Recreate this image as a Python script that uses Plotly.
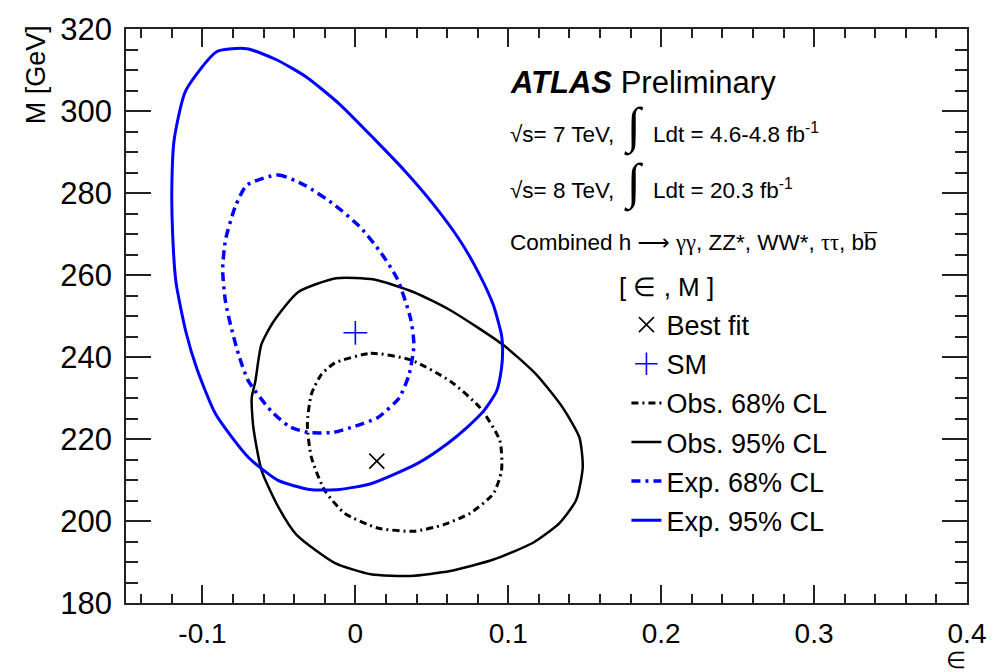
import plotly.graph_objects as go

# ---------------- data ----------------
exp95_eps = [-0.0905, -0.0710, -0.0516, -0.0321, -0.0104, 0.0123, 0.0318, 0.0513, 0.0686, 0.0816,
             0.0903, 0.0956, 0.0963, 0.0956, 0.0924, 0.0838, 0.0729, 0.0599, 0.0404, 0.0101,
             -0.0104, -0.0299, -0.0505, -0.0699, -0.0914, -0.1037, -0.1108, -0.1173, -0.1195,
             -0.1200, -0.1185, -0.1110, -0.0905]
exp95_m = [314.5, 315.2, 312.5, 308.3, 301.7, 293.2, 285.6, 277.1, 268.3, 259.8,
           252.6, 245.3, 242.1, 237.3, 231.7, 226.8, 222.8, 218.8, 214.0, 209.1,
           207.7, 207.7, 209.9, 215.5, 226.1, 237.2, 246.1, 258.2, 270.0,
           282.0, 293.0, 304.9, 314.5]

exp68_eps = [-0.0710, -0.0505, -0.0331, -0.0136, 0.0036, 0.0166, 0.0275, 0.0361, 0.0383, 0.0351,
             0.0286, 0.0145, -0.0029, -0.0147, -0.0310, -0.0430, -0.0550, -0.0699, -0.0764,
             -0.0816, -0.0849, -0.0868, -0.0849, -0.0784, -0.0710]
exp68_m = [281.9, 284.4, 281.9, 277.1, 271.5, 265.5, 259.0, 249.4, 242.9, 235.7,
           230.0, 225.2, 222.8, 221.6, 221.6, 223.0, 226.8, 234.1, 240.6,
           247.8, 253.4, 261.3, 268.6, 276.8, 281.9]

obs95_eps = [-0.0375, -0.0126, 0.0123, 0.0383, 0.0621, 0.0968, 0.1184, 0.1357, 0.1465, 0.1487,
             0.1444, 0.1335, 0.1162, 0.0903, 0.0621, 0.0361, 0.0101, -0.0136, -0.0386, -0.0505,
             -0.0613, -0.0667, -0.0678, -0.0654, -0.0615, -0.0536, -0.0375]
obs95_m = [255.8, 259.2, 258.9, 255.8, 251.4, 242.9, 235.7, 227.6, 220.4, 213.1,
           205.1, 199.5, 194.7, 190.6, 187.8, 186.6, 187.0, 189.8, 196.7, 203.5,
           212.3, 222.8, 230.0, 234.1, 243.0, 248.6, 255.8]

obs68_eps = [-0.0136, 0.0101, 0.0361, 0.0621, 0.0816, 0.0945, 0.0956, 0.0903, 0.0751, 0.0578,
             0.0383, 0.0145, -0.0071, -0.0201, -0.0288, -0.0314, -0.0288, -0.0223, -0.0136]
obs68_m = [238.5, 240.9, 239.3, 234.1, 227.6, 219.6, 212.3, 206.7, 201.9, 199.1,
           197.5, 198.3, 201.9, 207.5, 215.6, 223.6, 230.9, 235.7, 238.5]

best_fit_eps = [0.014]
best_fit_m = [214.6]
sm_eps = [0.0]
sm_m = [245.9]

x_tickvals = [-0.1, 0.0, 0.1, 0.2, 0.3, 0.4]
x_ticktext = ["-0.1", "0", "0.1", "0.2", "0.3", "0.4"]
y_tickvals = [180, 200, 220, 240, 260, 280, 300, 320]
y_ticktext = ["180", "200", "220", "240", "260", "280", "300", "320"]

FONT = "Liberation Sans"
BLUE = "#0000ff"

fig = go.Figure()

fig.add_trace(go.Scatter(x=obs68_eps, y=obs68_m, mode="lines", name="Obs. 68% CL",
                         line=dict(color="black", width=3, dash="7px,4px,2px,4px", shape="spline", smoothing=0.6),
                         legendrank=3, legendgroup="c"))
fig.add_trace(go.Scatter(x=obs95_eps, y=obs95_m, mode="lines", name="Obs. 95% CL",
                         line=dict(color="black", width=2.5, shape="spline", smoothing=0.6),
                         legendrank=4, legendgroup="d"))
fig.add_trace(go.Scatter(x=exp68_eps, y=exp68_m, mode="lines", name="Exp. 68% CL",
                         line=dict(color=BLUE, width=3.5, dash="9px,5px,3px,5px", shape="spline", smoothing=0.6),
                         legendrank=5, legendgroup="e"))
fig.add_trace(go.Scatter(x=exp95_eps, y=exp95_m, mode="lines", name="Exp. 95% CL",
                         line=dict(color=BLUE, width=3, shape="spline", smoothing=0.6),
                         legendrank=6, legendgroup="f"))
fig.add_trace(go.Scatter(x=best_fit_eps, y=best_fit_m, mode="markers", name="Best fit",
                         marker=dict(symbol="x-thin", size=15, color="black",
                                     line=dict(color="black", width=1.6)),
                         legendrank=1, legendgroup="a"))
fig.add_trace(go.Scatter(x=sm_eps, y=sm_m, mode="markers", name="SM",
                         marker=dict(symbol="cross-thin", size=17, color=BLUE,
                                     line=dict(color=BLUE, width=1.6)),
                         legendrank=2, legendgroup="b"))

axis_common = dict(showline=True, linecolor="#222", linewidth=1.8, mirror="ticks",
                   ticks="inside", tickcolor="#222", tickwidth=1.5, showgrid=False,
                   zeroline=False)

fig.update_xaxes(range=[-0.15, 0.4], tickmode="array", tickvals=x_tickvals, ticktext=x_ticktext,
                 ticklen=18, ticklabelstandoff=4,
                 tickfont=dict(family=FONT, size=28, color="black"),
                 minor=dict(tickmode="linear", tick0=0, dtick=0.02, ticklen=9, ticks="inside",
                            tickcolor="#222", tickwidth=1.5),
                 **axis_common)
fig.update_yaxes(range=[180, 320], tickmode="array", tickvals=y_tickvals, ticktext=y_ticktext,
                 ticklen=25, ticklabelstandoff=6,
                 tickfont=dict(family=FONT, size=31, color="black"),
                 minor=dict(tickmode="linear", tick0=180, dtick=5, ticklen=12, ticks="inside",
                            tickcolor="#222", tickwidth=1.5),
                 **axis_common)

W, H = 998, 672
L, R, T, B = 126, 25, 24, 69
pw, ph = W - L - R, H - T - B

def px(xp):
    return (xp - L) / pw

def py(yp):
    return (H - B - yp) / ph

integ = "<span style='font-size:50px;font-family:Liberation Serif'>\u222b</span>"
gam = "<span style='font-family:Liberation Serif'>\u03b3\u03b3</span>"
tau = "<span style='font-family:Liberation Serif'>\u03c4\u03c4</span>"
arrow = "<span style='font-family:DejaVu Sans'>\u27f6</span>"
ann = []
ann.append(dict(text="<b><i>ATLAS</i></b> Preliminary", x=px(511), y=py(78),
                font=dict(family=FONT, size=31, color="black")))
ann.append(dict(text="\u221as= 7 TeV,  " + integ + "  Ldt = 4.6-4.8 fb<sup>-1</sup>", x=px(511), y=py(122),
                font=dict(family=FONT, size=22.5, color="black")))
ann.append(dict(text="\u221as= 8 TeV,  " + integ + "  Ldt = 20.3 fb<sup>-1</sup>", x=px(511), y=py(179),
                font=dict(family=FONT, size=22.5, color="black")))
ann.append(dict(text="Combined h " + arrow + " " + gam + ", ZZ*, WW*, " + tau + ", bb\u0305", x=px(511), y=py(239),
                font=dict(family=FONT, size=22.5, color="black")))
ann.append(dict(text="[ \u2208 , M ]", x=px(621), y=py(284),
                font=dict(family=FONT, size=26, color="black")))
annotations = []
for a in ann:
    a.update(xref="paper", yref="paper", xanchor="left", yanchor="middle", showarrow=False)
    annotations.append(a)
annotations.append(dict(text="M [GeV]", textangle=-90, x=px(35), y=py(70), xref="paper", yref="paper",
                        xanchor="center", yanchor="middle", showarrow=False,
                        font=dict(family=FONT, size=27, color="black")))
annotations.append(dict(text="\u2208", x=px(962), y=py(660), xref="paper", yref="paper",
                        xanchor="center", yanchor="middle", showarrow=False,
                        font=dict(family=FONT, size=23, color="black")))

fig.update_layout(
    width=W, height=H,
    margin=dict(l=L, r=R, t=T, b=B),
    paper_bgcolor="white", plot_bgcolor="white",
    font=dict(family=FONT, color="black"),
    annotations=annotations,
    legend=dict(x=px(630), y=py(298), xanchor="left", yanchor="top",
                bgcolor="rgba(0,0,0,0)", borderwidth=0,
                font=dict(family=FONT, size=27, color="black"),
                tracegroupgap=1, traceorder="grouped"),
)

fig.write_html("out.html")
